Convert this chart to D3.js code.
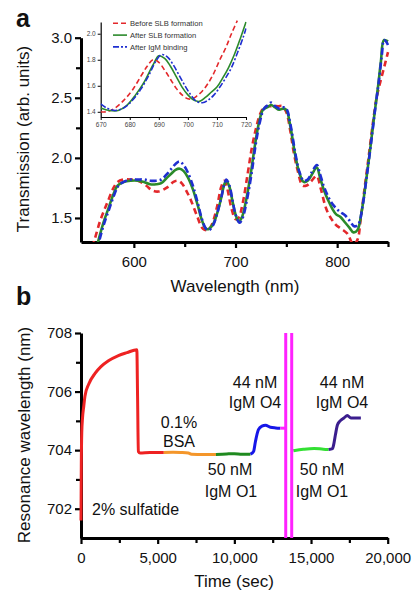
<!DOCTYPE html>
<html><head><meta charset="utf-8">
<script src="https://cdn.jsdelivr.net/npm/d3@7"></script>
<style>body{margin:0;background:#fff}svg{display:block}text{font-family:"Liberation Sans",Arial,Helvetica,sans-serif}</style>
</head><body><svg id="c" width="418" height="600"></svg>
<script>
// ---------- Panel a data (wavelength nm, transmission) ----------
const beforeSLB = [[556,1.18],[561,1.31],[567,1.48],[574,1.63],[580,1.75],[584,1.80],[590,1.82],[597,1.82],[604,1.81],[612,1.77],[618,1.73],[624,1.72],[632,1.75],[639,1.80],[643,1.81],[647,1.79],[652,1.72],[656,1.65],[662,1.52],[668,1.41],[673,1.40],[677,1.45],[682,1.60],[686,1.76],[689,1.81],[692,1.74],[696,1.58],[700,1.49],[703,1.50],[707,1.62],[712,1.87],[716,2.08],[720,2.24],[724,2.36],[728,2.42],[735,2.43],[742,2.43],[746,2.43],[750,2.38],[754,2.22],[757,2.06],[761,1.90],[766,1.77],[770,1.77],[774,1.80],[778,1.84],[780,1.85],[784,1.74],[790,1.56],[798,1.45],[804,1.41],[810,1.37],[816,1.28],[820,1.32],[823,1.48],[827,1.75],[831,2.01],[835,2.28],[839,2.51],[843,2.65],[847,2.78],[850,2.88]];
const afterSLB = [[562,1.22],[565,1.31],[570,1.46],[575,1.58],[580,1.70],[584,1.77],[590,1.80],[597,1.81],[604,1.81],[610,1.80],[616,1.78],[622,1.78],[627,1.79],[632,1.83],[637,1.87],[641,1.90],[645,1.91],[649,1.89],[653,1.84],[658,1.74],[663,1.60],[667,1.48],[671,1.41],[674,1.41],[678,1.45],[682,1.54],[686,1.67],[689,1.78],[691,1.81],[694,1.76],[697,1.64],[700,1.53],[703,1.47],[706,1.50],[710,1.63],[715,1.87],[719,2.10],[723,2.29],[727,2.40],[731,2.42],[735,2.44],[739,2.42],[743,2.40],[747,2.41],[750,2.40],[754,2.26],[759,2.01],[763,1.87],[767,1.80],[771,1.81],[775,1.86],[780,1.92],[783,1.84],[787,1.73],[791,1.65],[795,1.58],[799,1.53],[803,1.51],[808,1.46],[812,1.42],[816,1.38],[820,1.40],[824,1.55],[828,1.78],[832,2.04],[836,2.32],[840,2.58],[843,2.80],[846,2.98],[850,2.97]];
const afterIgM = [[563,1.20],[566,1.31],[571,1.46],[576,1.58],[581,1.70],[585,1.77],[590,1.80],[597,1.82],[604,1.82],[610,1.82],[616,1.81],[622,1.81],[627,1.82],[632,1.86],[637,1.91],[641,1.95],[645,1.97],[649,1.94],[653,1.88],[658,1.77],[663,1.62],[667,1.49],[671,1.41],[674,1.40],[678,1.44],[682,1.54],[686,1.67],[689,1.78],[691,1.82],[694,1.77],[697,1.65],[700,1.53],[704,1.46],[707,1.50],[711,1.64],[716,1.88],[720,2.12],[724,2.30],[728,2.41],[732,2.44],[735,2.46],[739,2.43],[743,2.41],[747,2.42],[750,2.41],[754,2.28],[759,2.03],[763,1.88],[767,1.81],[771,1.82],[775,1.88],[780,1.94],[783,1.87],[787,1.76],[791,1.68],[795,1.62],[799,1.58],[803,1.55],[808,1.52],[812,1.48],[817,1.43],[821,1.45],[825,1.60],[829,1.84],[833,2.10],[837,2.38],[841,2.64],[844,2.86],[846,2.98],[848,2.97],[850,2.94]];
// inset (zoom 670-720 nm)
const insetBefore = [[670,1.40],[672,1.40],[675,1.43],[678,1.49],[681,1.57],[684,1.68],[686,1.75],[688,1.80],[690,1.78],[692,1.72],[694,1.65],[696,1.58],[698,1.53],[700,1.50],[701.5,1.50],[703,1.52],[705,1.56],[707,1.62],[709,1.70],[711,1.80],[713,1.89],[715,2.00],[717,2.10]];
const insetAfterSLB = [[670,1.43],[673,1.41],[676,1.41],[679,1.45],[682,1.53],[685,1.63],[688,1.76],[690,1.83],[692,1.81],[694,1.75],[696,1.67],[698,1.59],[700,1.53],[702,1.49],[704,1.48],[706,1.51],[708,1.55],[710,1.59],[712,1.66],[714,1.74],[716,1.84],[718,1.96],[720,2.09]];
const insetAfterIgM = [[670,1.46],[672,1.43],[675,1.41],[678,1.43],[681,1.49],[684,1.58],[687,1.70],[689,1.79],[691,1.84],[693,1.82],[695,1.76],[697,1.68],[699,1.60],[701,1.53],[703,1.48],[705,1.47],[707,1.49],[709,1.53],[711,1.59],[713,1.66],[715,1.74],[717,1.85],[719,1.97],[720,2.04]];
const legendLabels = ["Before SLB formation","After SLB formation","After IgM binding"];
const aYTicks = [1.5,2.0,2.5,3.0], aYMinor = [1.75,2.25,2.75];
const aXTicks = [600,700,800], aXMinor = [650,750,850];
const insetXTicks = [670,680,690,700,710,720], insetYTicks = [1.4,1.6,1.8,2.0];

// ---------- Panel b data (time s, resonance wavelength nm) ----------
const sulfatideSeg = [[0,701.6],[20,703.5],[50,704.6],[100,705.1],[180,705.5],[260,705.85],[500,706.25],[915,706.62],[1300,706.85],[1790,707.05],[2440,707.23],[3000,707.33],[3640,707.43],[3690,705.8],[3740,703.95],[3850,703.9],[4500,703.92],[5400,703.92]];
const bsaSeg = [[5400,703.92],[6000,703.93],[6500,703.92],[7000,703.9],[7200,703.86],[8000,703.85],[8800,703.85]];
const o1Seg1 = [[8800,703.85],[9500,703.87],[10000,703.88],[10500,703.86],[11050,703.86]];
const o4Seg1 = [[11050,703.86],[11250,703.95],[11370,704.28],[11570,704.7],[11800,704.82],[12030,704.85],[12350,704.78],[12700,704.76],[13000,704.75]];
const washSeg = [[13000,704.75],[13350,704.75]];
const washLines = [13350,13740];
const washSeg2 = [[13740,704.0],[13860,703.98]];
const o1Seg2 = [[13860,703.98],[14500,704.03],[15200,704.06],[15800,704.03],[16150,704.02]];
const o4Seg2 = [[16150,704.02],[16400,704.05],[16500,704.25],[16600,704.55],[16720,704.86],[16900,705.0],[17150,705.1],[17370,705.18],[17600,705.1],[18000,705.1],[18250,705.1]];
const bYTicks = [702,704,706,708], bYMinor = [703,705,707];
const bXTicks = [0,5000,10000,15000,20000], bXMinor = [2500,7500,12500,17500];

const svg = d3.select("#c");
const FONT = '"Liberation Sans",Arial,Helvetica,sans-serif';

function styleAxis(g, fs, sw, tw){
  g.select(".domain").attr("stroke","#000").attr("stroke-width",sw);
  g.selectAll(".tick line").attr("stroke","#000").attr("stroke-width",tw);
  g.selectAll(".tick text").attr("font-size",fs).attr("fill","#111").attr("font-family",FONT);
}

// ================= Panel a =================
const xA = d3.scaleLinear().domain([548,850]).range([81,388]);
const yA = d3.scaleLinear().domain([1.3,3.0]).range([242,37.7]);
const gA = svg.append("g");

gA.append("clipPath").attr("id","clipA").append("rect").attr("x",81).attr("y",20).attr("width",312).attr("height",222);

const ax = gA.append("g").attr("transform","translate(0,242)")
  .call(d3.axisBottom(xA).tickValues(aXTicks).tickSize(6).tickSizeOuter(0).tickPadding(8).tickFormat(d3.format("d")));
styleAxis(ax,15,3,2.2);
const axm = gA.append("g").attr("transform","translate(0,242)")
  .call(d3.axisBottom(xA).tickValues(aXMinor).tickSize(5).tickFormat(""));
axm.select(".domain").remove(); axm.selectAll(".tick line").attr("stroke","#000").attr("stroke-width",2.2);
const ay = gA.append("g").attr("transform","translate(81,0)")
  .call(d3.axisLeft(yA).tickValues(aYTicks).tickSize(6).tickSizeOuter(0).tickPadding(3).tickFormat(d3.format(".1f")));
styleAxis(ay,15,3,2.2);
const aym = gA.append("g").attr("transform","translate(81,0)")
  .call(d3.axisLeft(yA).tickValues(aYMinor).tickSize(5).tickFormat(""));
aym.select(".domain").remove(); aym.selectAll(".tick line").attr("stroke","#000").attr("stroke-width",2.2);

const lineA = d3.line().x(d=>xA(d[0])).y(d=>yA(d[1])).curve(d3.curveCatmullRom.alpha(0.5));
const seriesA = [
  {data:beforeSLB, color:"#e3282b", dash:"6,4"},
  {data:afterSLB, color:"#2b8a2b", dash:null},
  {data:afterIgM, color:"#1f2fd0", dash:"7,3,2,3"}
];
const plotA = gA.append("g").attr("clip-path","url(#clipA)");
seriesA.forEach(s=>{
  plotA.append("path").attr("d",lineA(s.data)).attr("fill","none")
    .attr("stroke",s.color).attr("stroke-width",2.6).attr("stroke-dasharray",s.dash);
});

gA.append("text").attr("x",235).attr("y",292).attr("text-anchor","middle")
  .attr("font-size",17).attr("fill","#111").text("Wavelength (nm)");
gA.append("text").attr("transform","translate(29,139) rotate(-90)").attr("text-anchor","middle")
  .attr("font-size",17).attr("fill","#111").text("Transmission (arb. units)");
gA.append("text").attr("x",16).attr("y",27).attr("font-size",25).attr("font-weight","bold").attr("fill","#111").text("a");

// ----- inset -----
const xI = d3.scaleLinear().domain([670,720]).range([100.7,246]);
const yI = d3.scaleLinear().domain([1.36,2.09]).range([117,22]);
const gI = svg.append("g");
const ix = gI.append("g").attr("transform","translate(0,117)")
  .call(d3.axisBottom(xI).tickValues(insetXTicks).tickSize(3).tickSizeOuter(0).tickPadding(2).tickFormat(d3.format("d")));
styleAxis(ix,6.5,1.2,1);
ix.selectAll(".tick text").attr("fill","#444");
const iy = gI.append("g").attr("transform","translate(100.7,0)")
  .call(d3.axisLeft(yI).tickValues(insetYTicks).tickSize(3).tickSizeOuter(0).tickPadding(2).tickFormat(d3.format(".1f")));
styleAxis(iy,6.5,1.2,1);
iy.selectAll(".tick text").attr("fill","#444");
gI.append("clipPath").attr("id","clipI").append("rect").attr("x",100.7).attr("y",18).attr("width",146).attr("height",99);
const lineI = d3.line().x(d=>xI(d[0])).y(d=>yI(d[1])).curve(d3.curveCatmullRom.alpha(0.5));
const seriesI = [
  {data:insetBefore, color:"#e3282b", dash:"5,3"},
  {data:insetAfterSLB, color:"#2b8a2b", dash:null},
  {data:insetAfterIgM, color:"#1f2fd0", dash:"6,2,2,2"}
];
const plotI = gI.append("g").attr("clip-path","url(#clipI)");
seriesI.forEach(s=>{
  plotI.append("path").attr("d",lineI(s.data)).attr("fill","none")
    .attr("stroke",s.color).attr("stroke-width",1.6).attr("stroke-dasharray",s.dash);
});
const leg = gI.append("g");
legendLabels.forEach((lab,i)=>{
  const yy = 23.3 + i*11.8;
  leg.append("line").attr("x1",113).attr("x2",127).attr("y1",yy).attr("y2",yy)
    .attr("stroke",seriesI[i].color).attr("stroke-width",1.6).attr("stroke-dasharray",seriesI[i].dash);
  leg.append("text").attr("x",130).attr("y",yy+2.6).attr("font-size",7.6).attr("fill","#333").text(lab);
});

// ================= Panel b =================
const xB = d3.scaleLinear().domain([0,20000]).range([81,387.7]);
const yB = d3.scaleLinear().domain([701,708]).range([538,333]);
const gB = svg.append("g");
const bx = gB.append("g").attr("transform","translate(0,538)")
  .call(d3.axisBottom(xB).tickValues(bXTicks).tickSize(6).tickSizeOuter(0).tickPadding(8).tickFormat(d3.format(",")));
styleAxis(bx,15,3,2.2);
const bxm = gB.append("g").attr("transform","translate(0,538)")
  .call(d3.axisBottom(xB).tickValues(bXMinor).tickSize(5).tickFormat(""));
bxm.select(".domain").remove(); bxm.selectAll(".tick line").attr("stroke","#000").attr("stroke-width",2.2);
const by = gB.append("g").attr("transform","translate(81,0)")
  .call(d3.axisLeft(yB).tickValues(bYTicks).tickSize(6).tickSizeOuter(0).tickPadding(3).tickFormat(d3.format("d")));
styleAxis(by,15,3,2.2);
const bym = gB.append("g").attr("transform","translate(81,0)")
  .call(d3.axisLeft(yB).tickValues(bYMinor).tickSize(5).tickFormat(""));
bym.select(".domain").remove(); bym.selectAll(".tick line").attr("stroke","#000").attr("stroke-width",2.2);

const lineB = d3.line().x(d=>xB(d[0])).y(d=>yB(d[1])).curve(d3.curveMonotoneX);
const segs = [
  {data:sulfatideSeg, color:"#ee2222"},
  {data:bsaSeg, color:"#f4962a"},
  {data:o1Seg1, color:"#1f8a1f"},
  {data:o4Seg1, color:"#1616e8"},
  {data:washSeg, color:"#ff22ff"},
  {data:washSeg2, color:"#ff22ff"},
  {data:o1Seg2, color:"#33e033"},
  {data:o4Seg2, color:"#3b1e8e"}
];
segs.forEach(s=>{
  gB.append("path").attr("d",lineB(s.data)).attr("fill","none")
    .attr("stroke",s.color).attr("stroke-width",3).attr("stroke-linejoin","round");
});
washLines.forEach(t=>{
  gB.append("line").attr("x1",xB(t)).attr("x2",xB(t)).attr("y1",yB(708)).attr("y2",yB(701))
    .attr("stroke","#ff22ff").attr("stroke-width",3);
});

const notes = [
  {x:92, y:515, a:"start", t:"2% sulfatide"},
  {x:179, y:428, a:"middle", t:"0.1%"},
  {x:179, y:447, a:"middle", t:"BSA"},
  {x:255, y:388, a:"middle", t:"44 nM"},
  {x:255, y:408, a:"middle", t:"IgM O4"},
  {x:230, y:475, a:"middle", t:"50 nM"},
  {x:231, y:497, a:"middle", t:"IgM O1"},
  {x:342, y:388, a:"middle", t:"44 nM"},
  {x:342, y:408, a:"middle", t:"IgM O4"},
  {x:322, y:475, a:"middle", t:"50 nM"},
  {x:322, y:497, a:"middle", t:"IgM O1"}
];
notes.forEach(n=>{
  gB.append("text").attr("x",n.x).attr("y",n.y).attr("text-anchor",n.a)
    .attr("font-size",16).attr("fill","#111").text(n.t);
});

gB.append("text").attr("x",234).attr("y",587).attr("text-anchor","middle")
  .attr("font-size",17).attr("fill","#111").text("Time (sec)");
gB.append("text").attr("transform","translate(30,435) rotate(-90)").attr("text-anchor","middle")
  .attr("font-size",17).attr("fill","#111").text("Resonance wavelength (nm)");
gB.append("text").attr("x",16).attr("y",305).attr("font-size",25).attr("font-weight","bold").attr("fill","#111").text("b");
</script></body></html>
